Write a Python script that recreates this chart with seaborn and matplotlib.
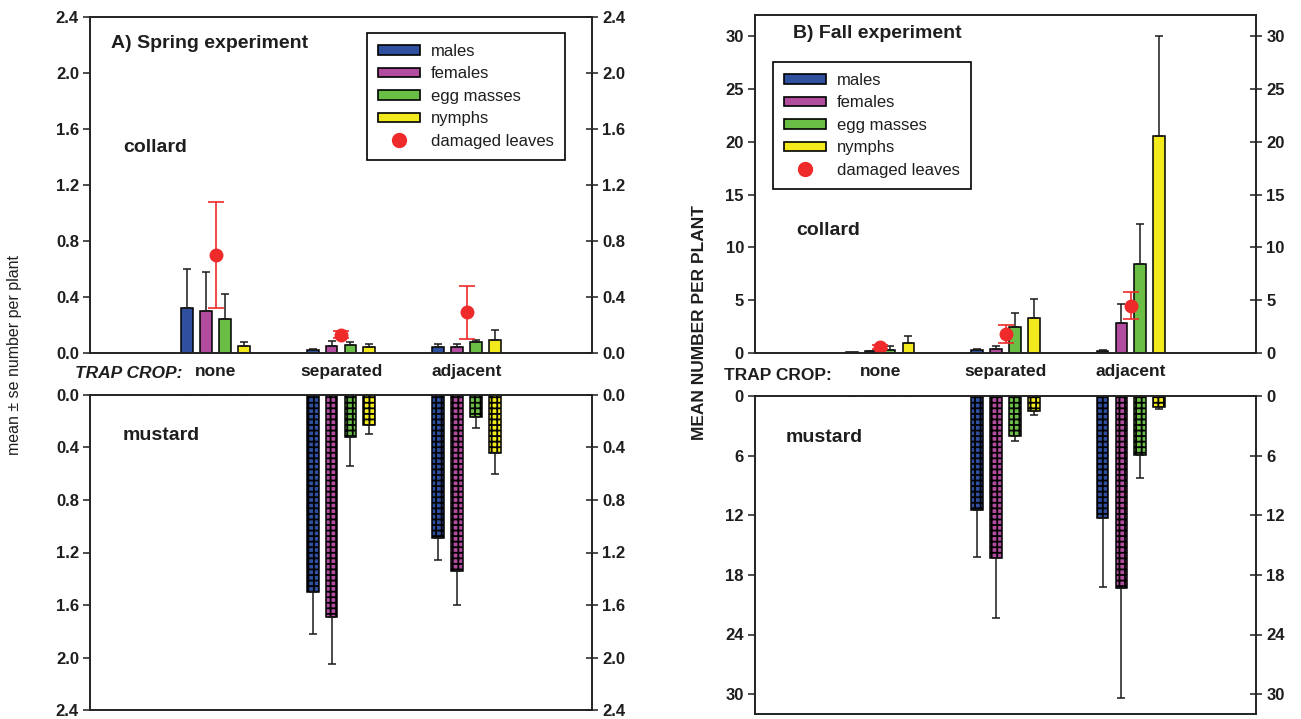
import numpy as np
import pandas as pd
import matplotlib.pyplot as plt
import seaborn as sns
from matplotlib.patches import Patch
from matplotlib.lines import Line2D

#---------------------- DATA ----------------------------#
groups = ['none', 'separated', 'adjacent']
stages = ['males', 'females', 'egg masses', 'nymphs']
stage_colors = ['#2F4F9F', '#B24C9E', '#6BBE45', '#F2EA1C']
red = '#EE2A2A'

# A) Spring experiment, rows = stages, cols = groups
spring_collard_mean = [[0.32, 0.02, 0.04], [0.30, 0.05, 0.04], [0.24, 0.06, 0.08], [0.05, 0.04, 0.09]]
spring_collard_se = [[0.28, 0.01, 0.027], [0.28, 0.036, 0.027], [0.18, 0.016, 0.01], [0.03, 0.024, 0.076]]
spring_damage_mean = [0.70, 0.13, 0.29]
spring_damage_se = [0.38, 0.025, 0.19]
spring_mustard_mean = [[0, 1.50, 1.09], [0, 1.69, 1.34], [0, 0.32, 0.17], [0, 0.23, 0.44]]
spring_mustard_se = [[0, 0.32, 0.17], [0, 0.36, 0.26], [0, 0.22, 0.08], [0, 0.07, 0.16]]

# B) Fall experiment
fall_collard_mean = [[0.05, 0.32, 0.22], [0.15, 0.41, 2.81], [0.32, 2.46, 8.4], [0.95, 3.32, 20.5]]
fall_collard_se = [[0, 0.09, 0.06], [0.05, 0.22, 1.83], [0.31, 1.33, 3.85], [0.63, 1.83, 9.47]]
fall_damage_mean = [0.57, 1.8, 4.48]
fall_damage_se = [0.15, 0.85, 1.25]
fall_mustard_mean = [[0, 11.5, 12.24], [0, 16.35, 19.36], [0, 3.98, 5.89], [0, 1.47, 1.14]]
fall_mustard_se = [[0, 4.7, 7.0], [0, 6.0, 11.0], [0, 0.5, 2.37], [0, 0.43, 0.16]]

spring_ticks = [0.0, 0.4, 0.8, 1.2, 1.6, 2.0, 2.4]
fall_collard_ticks = [0, 5, 10, 15, 20, 25, 30]
fall_mustard_ticks = [0, 6, 12, 18, 24, 30]

#---------------------- STYLE ----------------------------#
sns.set_theme(style='ticks')
plt.rcParams['font.family'] = ['Liberation Sans', 'DejaVu Sans']
plt.rcParams['hatch.linewidth'] = 1.3
plt.rcParams['axes.edgecolor'] = '#222222'
plt.rcParams['axes.linewidth'] = 1.2
for k in ['text.color', 'xtick.color', 'ytick.color', 'xtick.labelcolor', 'ytick.labelcolor']:
    plt.rcParams[k] = '#1e1e1e'

W, H = 1301, 719
fig = plt.figure(figsize=(W / 100, H / 100), dpi=100)

def box(x0, y0, x1, y1):  # pixel box -> figure fraction
    return [x0 / W, 1 - y1 / H, (x1 - x0) / W, (y1 - y0) / H]

def ftext(x, y, s, **kw):
    fig.text(x / W, 1 - y / H, s, va='center', **kw)

def bars(ax, mean, se, ymax, ticks, fmt, mustard):
    df = pd.DataFrame({'group': np.tile(groups, 4),
                       'stage': np.repeat(stages, 3),
                       'mean': np.ravel(mean)})
    sns.barplot(data=df, x='group', y='mean', hue='stage', order=groups, hue_order=stages,
                palette=stage_colors, saturation=1, width=0.6, gap=0.38, edgecolor='black',
                linewidth=1.1, errorbar=None, legend=False, ax=ax)
    se = np.asarray(se)
    for p in list(ax.patches):
        xc = p.get_x() + p.get_width() / 2
        g = int(round(xc))
        s = int(round((xc - g) / 0.15 + 1.5))
        if mustard:
            p.set_hatch('+++')
        if se[s][g] > 0:
            ax.errorbar(xc, p.get_height(), yerr=[[0], [se[s][g]]], fmt='none', ecolor='#1a1a1a',
                        elinewidth=1.1, capsize=3, capthick=1.1, zorder=1.5)
    ax.set_xlim(-1, 3)
    lim = (ymax, 0) if mustard else (0, ymax)
    ax.set_ylim(lim)
    ax.set_xlabel(''); ax.set_ylabel('')
    labels = [fmt % t for t in ticks]
    ax.set_yticks(ticks, labels=labels, fontweight='bold', fontsize=12)
    ax.tick_params(axis='y', direction='out', length=5, width=1.1, pad=3, right=False)
    if mustard:
        ax.set_xticks([])
    else:
        ax.set_xticks([0, 1, 2], labels=groups, fontweight='bold', fontsize=12.5)
        ax.tick_params(axis='x', length=0, pad=8)
    for sp in ax.spines.values():
        sp.set_visible(True)
    tw = ax.twinx()
    tw.set_ylim(lim)
    tw.set_yticks(ticks, labels=labels, fontweight='bold', fontsize=12)
    tw.tick_params(axis='y', direction='inout', length=9, width=1.1, pad=3)
    tw.grid(False)

def damage(ax, mean, se):
    ax.errorbar(range(len(groups)), mean, yerr=se, fmt='o', color=red, ms=9, ecolor=red,
                elinewidth=1.2, capsize=5.5, capthick=1.2, zorder=5)

def legend(ax, x, y):
    handles = [Patch(facecolor=c, edgecolor='black', linewidth=1.2) for c in stage_colors]
    handles.append(Line2D([], [], marker='o', color=red, ls='none', ms=10))
    leg = ax.legend(handles, stages + ['damaged leaves'], loc='upper left',
                    bbox_to_anchor=(x / W, 1 - y / H), bbox_transform=fig.transFigure,
                    frameon=True, fancybox=False, framealpha=1, edgecolor='black', fontsize=12,
                    handlelength=2.5, handleheight=0.5, labelspacing=0.45, handletextpad=0.7,
                    borderpad=0.65, borderaxespad=0)
    leg.get_frame().set_linewidth(1.2)

#---------------------- A) SPRING ----------------------------#
ax = fig.add_axes(box(90, 17, 592, 353))
bars(ax, spring_collard_mean, spring_collard_se, 2.4, spring_ticks, '%.1f', False)
damage(ax, spring_damage_mean, spring_damage_se)
legend(ax, 367, 33)

ax = fig.add_axes(box(90, 395, 592, 710))
bars(ax, spring_mustard_mean, spring_mustard_se, 2.4, spring_ticks, '%.1f', True)

ftext(111, 43, 'A) Spring experiment', fontsize=14, fontweight='bold')
ftext(123, 148, 'collard', fontsize=14, fontweight='bold')
ftext(123, 436, 'mustard', fontsize=14, fontweight='bold')
ftext(75, 373, 'TRAP CROP:', fontsize=12.5, fontweight='bold', style='italic')
ftext(15, 355, 'mean \u00b1 se number per plant', fontsize=11.5, rotation=90, ha='center')

#---------------------- B) FALL ----------------------------#
ax = fig.add_axes(box(755, 15, 1256, 353))
bars(ax, fall_collard_mean, fall_collard_se, 32, fall_collard_ticks, '%d', False)
damage(ax, fall_damage_mean, fall_damage_se)
legend(ax, 773, 62)

ax = fig.add_axes(box(755, 396, 1256, 714))
bars(ax, fall_mustard_mean, fall_mustard_se, 32, fall_mustard_ticks, '%d', True)

ftext(793, 33, 'B) Fall experiment', fontsize=14, fontweight='bold')
ftext(796, 231, 'collard', fontsize=14, fontweight='bold')
ftext(786, 437, 'mustard', fontsize=14, fontweight='bold')
ftext(724, 375, 'TRAP CROP:', fontsize=12.5, fontweight='bold')
ftext(700, 322, 'MEAN NUMBER PER PLANT', fontsize=12.5, fontweight='bold', rotation=90, ha='center')

out = 'out.png'; fig.savefig(out, dpi=100); print("Plot written to", out)
